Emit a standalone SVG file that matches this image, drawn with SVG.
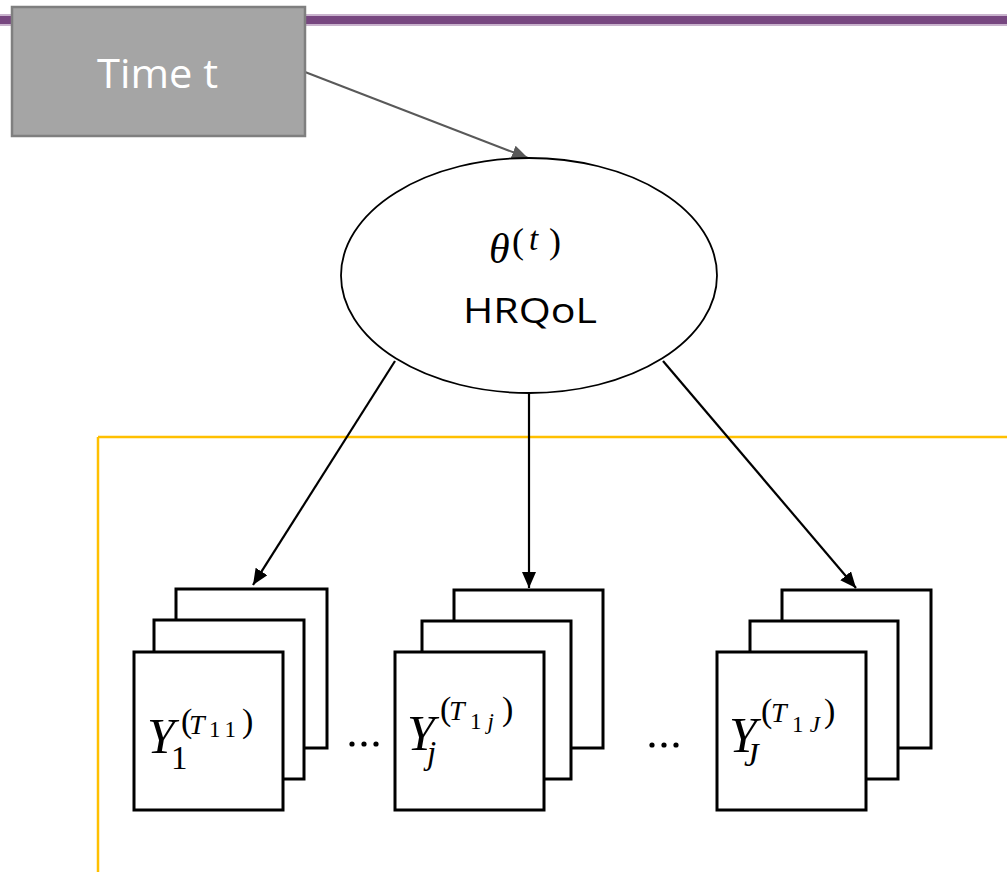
<svg xmlns="http://www.w3.org/2000/svg" width="1007" height="874" viewBox="0 0 1007 874">
<defs>
<marker id="ahGray" markerUnits="userSpaceOnUse" markerWidth="18" markerHeight="14" refX="16" refY="7" orient="auto"><path d="M0,0 L16,7 L0,14 z" fill="#595959"/></marker>
<marker id="ahBlack" markerUnits="userSpaceOnUse" markerWidth="18" markerHeight="14" refX="16" refY="7" orient="auto"><path d="M0,0 L16,7 L0,14 z" fill="#000"/></marker>
<style>
.card{fill:#fff;stroke:#000;stroke-width:3}
.m{font-family:"Liberation Serif","DejaVu Serif",serif;fill:#000}
.i{font-style:italic}
.lbl{font-family:"Open Sans","Liberation Sans",sans-serif}
.dot{fill:#000}
</style>
</defs>
<rect width="1007" height="874" fill="#fff"/>
<rect x="0" y="14" width="1007" height="12" fill="#c9b3cd"/>
<rect x="0" y="16" width="1007" height="8" fill="#774780"/>
<line x1="98" y1="437" x2="1007" y2="437" stroke="#ffc000" stroke-width="2.5"/>
<line x1="98" y1="437" x2="98" y2="872" stroke="#ffc000" stroke-width="2.5"/>
<g id="connectors" fill="none">
<line x1="305" y1="72" x2="528" y2="158" stroke="#595959" stroke-width="2" marker-end="url(#ahGray)"/>
<line x1="395" y1="361" x2="253" y2="585" stroke="#000" stroke-width="2.2" marker-end="url(#ahBlack)"/>
<line x1="529" y1="393" x2="529" y2="588" stroke="#000" stroke-width="2.2" marker-end="url(#ahBlack)"/>
<line x1="663" y1="361" x2="856" y2="588" stroke="#000" stroke-width="2.2" marker-end="url(#ahBlack)"/>
</g>
<g id="time">
<rect x="12" y="7" width="293" height="129" fill="#a5a5a5" stroke="#7f7f7f" stroke-width="2.5"/>
<text x="97" y="88" class="lbl" font-size="41" fill="#fff" textLength="121" lengthAdjust="spacingAndGlyphs">Time t</text>
</g>
<g id="hrqol">
<ellipse cx="529" cy="275.5" rx="188" ry="117.5" fill="#fff" stroke="#000" stroke-width="1.8"/>
<text x="489" y="263" class="m i" font-size="42">θ</text>
<text x="512" y="253" class="m" font-size="36">(</text>
<text x="529" y="250" class="m i" font-size="33">t</text>
<text x="549" y="253" class="m" font-size="36">)</text>
<text x="463" y="323" class="lbl" font-size="34" textLength="134" lengthAdjust="spacingAndGlyphs">HRQoL</text>
</g>
<g id="y1">
<rect class="card" x="176" y="589" width="151" height="159"/>
<rect class="card" x="154" y="620" width="150" height="159"/>
<rect class="card" x="134" y="652" width="149" height="158"/>
<text x="147" y="753" class="m i" font-size="50">Y</text>
<text x="171" y="769" class="m" font-size="33">1</text>
<text x="181" y="732" class="m" font-size="34">(</text>
<text x="189" y="734" class="m i" font-size="28">T</text>
<text x="209" y="737" class="m" font-size="23" textLength="27" lengthAdjust="spacing">11</text>
<text x="242" y="732" class="m" font-size="34">)</text>
</g>
<g id="yj">
<rect class="card" x="454" y="590" width="149" height="158"/>
<rect class="card" x="422" y="621" width="149" height="158"/>
<rect class="card" x="395" y="652" width="149" height="158"/>
<text x="407" y="750" class="m i" font-size="50">Y</text>
<text x="427" y="764" class="m i" font-size="33">j</text>
<text x="440" y="720" class="m" font-size="34">(</text>
<text x="449" y="720" class="m i" font-size="28">T</text>
<text x="470" y="729" class="m" font-size="23" textLength="24" lengthAdjust="spacing">1<tspan class="i">j</tspan></text>
<text x="502" y="720" class="m" font-size="34">)</text>
</g>
<g id="yJ">
<rect class="card" x="782" y="590" width="149" height="158"/>
<rect class="card" x="750" y="621" width="148" height="158"/>
<rect class="card" x="717" y="652" width="149" height="158"/>
<text x="729" y="752" class="m i" font-size="50">Y</text>
<text x="744" y="766" class="m i" font-size="33">J</text>
<text x="761" y="722" class="m" font-size="34">(</text>
<text x="771" y="722" class="m i" font-size="28">T</text>
<text x="792" y="732" class="m" font-size="23" textLength="28" lengthAdjust="spacing">1<tspan class="i">J</tspan></text>
<text x="824" y="722" class="m" font-size="34">)</text>
</g>
<g id="dots">
<circle class="dot" cx="352" cy="744" r="2.6"/>
<circle class="dot" cx="364" cy="744" r="2.6"/>
<circle class="dot" cx="376" cy="744" r="2.6"/>
<circle class="dot" cx="652" cy="745" r="2.6"/>
<circle class="dot" cx="664" cy="745" r="2.6"/>
<circle class="dot" cx="676" cy="745" r="2.6"/>
</g>
</svg>
